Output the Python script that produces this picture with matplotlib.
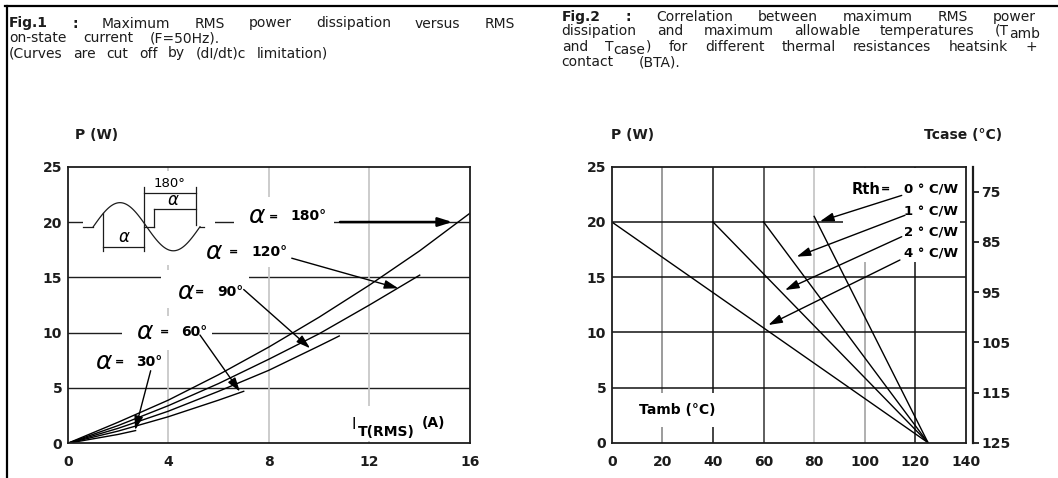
import numpy as np
import matplotlib
matplotlib.use("Agg")
import matplotlib.pyplot as plt
from matplotlib.lines import Line2D
from matplotlib.patches import Rectangle

W, H = 1058, 478

# Fig.1: max RMS power vs RMS on-state current, one curve per conduction angle
alpha_deg = [180, 120, 90, 60, 30]
it_180 = [0, 2, 4, 6, 8, 10, 12, 14, 16]
p_180 = [0, 1.9, 3.9, 6.2, 8.7, 11.4, 14.3, 17.4, 20.8]
it_120 = [0, 2, 4, 6, 8, 10, 12, 14]
p_120 = [0, 1.6, 3.4, 5.4, 7.6, 9.9, 12.5, 15.2]
it_90 = [0, 2, 4, 6, 8, 10, 10.8]
p_90 = [0, 1.35, 2.9, 4.7, 6.6, 8.8, 9.7]
it_60 = [0, 2, 4, 6, 7.0]
p_60 = [0, 1.1, 2.4, 3.9, 4.7]
it_30 = [0, 1, 2, 2.7]
p_30 = [0, 0.4, 0.8, 1.15]

# Fig.2: derating lines for each Rth, all meeting at Tj = 125 C
rth_labels = ["0 ° C/W", "1 ° C/W", "2 ° C/W", "4 ° C/W"]
tamb_start = [80, 60, 40, 0]
p_start = [20.5, 20.0, 20.0, 20.0]
tamb_end = [125, 125, 125, 125]
p_end = [0, 0, 0, 0]
tcase_ticks = [75, 85, 95, 105, 115, 125]

plt.rcParams["font.family"] = ["DejaVu Sans"]
INK = "#1c1c1c"
LAB = 10

fig = plt.figure(figsize=(W / 100, H / 100), dpi=100)
fig.patch.set_facecolor("white")
renderer = fig.canvas.get_renderer()


def fig_xy(px, py):
    return px / W, 1 - py / H


def text_line(words, x0, x1, y, size=10):
    # spread the words so the line spans x0..x1 (pixels), like the justified datasheet text
    placed = []
    total = 0.0
    for word in words:
        if isinstance(word, str):
            word = [(word, "normal", 0)]
        segs = []
        for s, weight, dy in word:
            t = fig.text(0, 0, s, fontsize=size, fontweight=weight, color=INK,
                         ha="left", va="baseline")
            w = t.get_window_extent(renderer).width
            segs.append((t, w, dy))
            total += w
        placed.append(segs)
    gap = (x1 - x0 - total) / max(len(placed) - 1, 1)
    x = x0
    for segs in placed:
        for t, w, dy in segs:
            t.set_position(fig_xy(x, y + dy))
            x += w
        x += gap


# caption texts
text_line([[("Fig.1", "bold", 0)], [(":", "bold", 0)], "Maximum", "RMS", "power",
           "dissipation", "versus", "RMS"], 9, 515, 27.5)
text_line("on-state current (F=50Hz).".split(), 9, 220, 42.5)
text_line("(Curves are cut off by (dI/dt)c limitation)".split(), 9, 328, 57.5)

text_line([[("Fig.2", "bold", 0)], [(":", "bold", 0)], "Correlation", "between",
           "maximum", "RMS", "power"], 561.7, 1036, 20.7)
text_line(["dissipation", "and", "maximum", "allowable", "temperatures",
           [("(T", "normal", 0), ("amb", "normal", 2.5)]], 561.7, 1040, 35.0)
text_line(["and", [("T", "normal", 0), ("case", "normal", 3.5), (")", "normal", 0)], "for",
           "different", "thermal", "resistances", "heatsink", "+"], 561.7, 1036.7, 51.0)
text_line(["contact", "(BTA)."], 561.7, 680, 66.0)

# frame lines of the page
fig.add_artist(Line2D([5 / W, 1], [1 - 6 / H] * 2, color="black", lw=1.6))
fig.add_artist(Line2D([7.3 / W] * 2, [1 - 6 / H, 0], color="black", lw=1.6))

ax1 = fig.add_axes([67.7 / W, 1 - 443.3 / H, (470 - 67.7) / W, (443.3 - 166.7) / H])
ax2 = fig.add_axes([611.7 / W, 1 - 442.7 / H, (966 - 611.7) / W, (442.7 - 166.7) / H])


def frame(ax, xmax, xstep):
    ax.set_xlim(0, xmax)
    ax.set_ylim(0, 25)
    ax.set_xticks(range(0, xmax + 1, xstep))
    ax.set_yticks(range(0, 26, 5))
    ax.tick_params(length=0, labelsize=LAB, colors=INK)
    ax.tick_params(axis="x", pad=8.5)
    ax.tick_params(axis="y", pad=4)
    for lab in ax.get_xticklabels() + ax.get_yticklabels():
        lab.set_fontweight("bold")
    for sp in ax.spines.values():
        sp.set_linewidth(1.3)
        sp.set_color(INK)
        sp.set_zorder(2.5)


def blank(ax, x0, x1, y0, y1):
    ax.add_patch(Rectangle((x0, y0), x1 - x0, y1 - y0, fc="white", ec="none", zorder=1))


def arrow(ax, tail, tip, lw=1.0):
    ax.annotate("", xy=tip, xytext=tail, zorder=3,
                arrowprops=dict(arrowstyle="-|>,head_length=0.7,head_width=0.22",
                                color="black", lw=lw, mutation_scale=12,
                                shrinkA=0, shrinkB=0))


# ---- Fig.1 ----
frame(ax1, 16, 4)
for v in [5, 10, 15, 20]:
    ax1.axhline(v, color="#1e1e1e", lw=1.0, zorder=0.5)
for v in [4, 8, 12]:
    ax1.axvline(v, color="#c4c4c4", lw=1.2, zorder=0.5)

blank(ax1, 0.6, 5.85, 16.1, 24.6)
blank(ax1, 6.6, 10.6, 18.7, 22.3)
blank(ax1, 5.2, 8.9, 15.9, 18.7)
blank(ax1, 3.7, 7.2, 12.2, 15.7)
blank(ax1, 2.15, 5.75, 8.4, 11.5)
blank(ax1, 0.7, 3.6, 6.3, 8.5)
blank(ax1, 11.2, 15.6, 0.2, 3.4)

for it, p in zip([it_180, it_120, it_90, it_60, it_30], [p_180, p_120, p_90, p_60, p_30]):
    ax1.plot(it, p, color="black", lw=1.0, zorder=2)

# alpha labels: alpha x, "=" x, number x, y, arrow tail, arrow tip
label_pos = [
    (7.5, 8.18, 8.85, 20.5, (10.83, 20.0), (15.3, 20.0)),
    (5.79, 6.6, 7.3, 17.32, (8.91, 16.73), (13.15, 14.01)),
    (4.67, 5.26, 5.95, 13.71, (7.0, 13.9), (9.64, 8.59)),
    (3.07, 3.83, 4.5, 10.09, (5.26, 9.79), (6.85, 4.67)),
    (1.42, 2.08, 2.72, 7.38, (3.30, 6.56), (2.68, 1.2)),
]
for deg, (xa, xe, xn, y, tail, tip) in zip(alpha_deg, label_pos):
    ax1.text(xa, y, "α", fontsize=18, style="italic", ha="center", va="center", zorder=3)
    ax1.text(xe, y, "=", fontsize=8, fontweight="bold", ha="center", va="center", zorder=3)
    ax1.text(xn, y, f"{deg}°", fontsize=LAB, fontweight="bold", ha="left", va="center",
             zorder=3)
    arrow(ax1, tail, tip, lw=1.8 if deg == 180 else 1.0)

ax1.text(11.3, 1.7, "I", fontsize=11, ha="left", va="center", zorder=3)
ax1.text(11.55, 1.0, "T(RMS)", fontsize=LAB, fontweight="bold", ha="left", va="center",
         zorder=3)
ax1.text(14.1, 1.8, "(A)", fontsize=LAB, fontweight="bold", ha="left", va="center", zorder=3)

# waveform sketch in the upper-left corner
tr = ax1.transAxes
theta = np.linspace(0, 2 * np.pi, 120)
ax1.plot(0.0636 + 0.2653 * theta / (2 * np.pi), 0.783 + 0.087 * np.sin(theta),
         transform=tr, color=INK, lw=0.9, zorder=2)
sketch = [
    [(0.0388, 0.0636), (0.783, 0.783)], [(0.3289, 0.338), (0.783, 0.783)],
    [(0.1909, 0.2153), (0.783, 0.783)],
    [(0.0885, 0.0885), (0.831, 0.697)], [(0.1909, 0.1909), (0.928, 0.697)],
    [(0.0885, 0.1909), (0.711, 0.711)],
    [(0.1909, 0.318), (0.904, 0.904)], [(0.318, 0.318), (0.928, 0.789)],
    [(0.2153, 0.318), (0.847, 0.847)], [(0.2153, 0.2153), (0.847, 0.783)],
]
for xs, ys in sketch:
    ax1.plot(xs, ys, transform=tr, color=INK, lw=0.9, zorder=2)
ax1.text(0.140, 0.745, "α", transform=tr, fontsize=12, style="italic", ha="center",
         va="center", zorder=3)
ax1.text(0.2625, 0.878, "α", transform=tr, fontsize=12, style="italic", ha="center",
         va="center", zorder=3)
ax1.text(0.254, 0.94, "180°", transform=tr, fontsize=9.5, ha="center", va="center",
         zorder=3)

fig.text(97 / W, 1 - 135 / H, "P (W)", fontsize=LAB, fontweight="bold", color=INK,
         ha="center", va="center")

# ---- Fig.2 ----
frame(ax2, 140, 20)
for v, c in [(20, "#808080"), (40, "#111111"), (60, "#333333"), (80, "#bdbdbd"),
             (100, "#9a9a9a"), (120, "#111111")]:
    ax2.axvline(v, color=c, lw=1.1, zorder=0.5)
for v in [5, 10, 15, 20]:
    ax2.axhline(v, color="#111111", lw=1.1, zorder=0.5)

blank(ax2, 6, 47, 1.45, 4.5)
blank(ax2, 91.4, 137.6, 16.4, 24.85)

for xs, ps, xe, pe in zip(tamb_start, p_start, tamb_end, p_end):
    ax2.plot([xs, xe], [ps, pe], color="black", lw=1.0, zorder=2)

ax2.text(100.5, 22.98, "Rth", fontsize=10.5, fontweight="bold", ha="center", va="center",
         zorder=3)
ax2.text(108, 22.98, "=", fontsize=8, fontweight="bold", ha="center", va="center", zorder=3)
rth_y = [22.9, 20.9, 19.0, 17.1]
rth_tail = [(114.6, 22.4), (115.9, 20.6), (114.6, 18.66), (113.9, 16.55)]
rth_tip = [(82.3, 20.05), (73.1, 16.85), (68.5, 13.83), (61.9, 10.66)]
for lab, y, tail, tip in zip(rth_labels, rth_y, rth_tail, rth_tip):
    ax2.text(137.0, y, lab, fontsize=9.5, fontweight="bold", ha="right", va="center",
             zorder=3)
    arrow(ax2, tail, tip)

ax2.text(26.0, 2.96, "Tamb (°C)", fontsize=LAB, fontweight="bold", ha="center",
         va="center", zorder=3)

ax2t = ax2.twinx()
ax2t.set_ylim(125, 70)
ax2t.set_yticks(tcase_ticks)
for s in ["top", "bottom", "left"]:
    ax2t.spines[s].set_visible(False)
ax2t.spines["right"].set_position(("outward", 5))
ax2t.spines["right"].set_linewidth(1.6)
ax2t.spines["right"].set_color(INK)
ax2t.tick_params(axis="y", direction="out", length=4, width=1.3, pad=2, labelsize=LAB,
                 colors=INK)
for lab in ax2t.get_yticklabels():
    lab.set_fontweight("bold")

fig.text(633 / W, 1 - 135 / H, "P (W)", fontsize=LAB, fontweight="bold", color=INK,
         ha="center", va="center")
fig.text(963 / W, 1 - 135 / H, "Tcase (°C)", fontsize=LAB, fontweight="bold", color=INK,
         ha="center", va="center")

fig.savefig("out.png", dpi=100, facecolor="white")
